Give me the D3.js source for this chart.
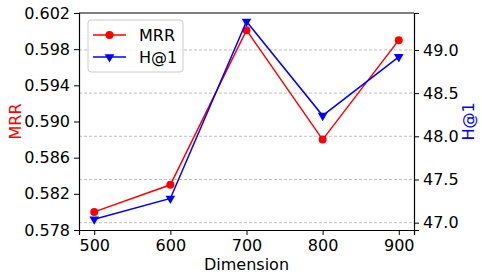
<!DOCTYPE html>
<html>
<head>
<meta charset="utf-8">
<script src="https://cdn.jsdelivr.net/npm/d3@7"></script>
<style>
  body { margin: 0; background: #fff; }
  text { font-family: "DejaVu Sans", sans-serif; }
  .axis path, .axis line { stroke: #000; }
  .axis text { font-size: 16px; fill: #000; }
</style>
</head>
<body>
<div id="chart"></div>
<script>
var dims = [500, 600, 700, 800, 900];
var mrr = [0.5800, 0.5830, 0.6001, 0.5880, 0.5990];
var hit1 = [47.04, 47.28, 49.33, 48.24, 48.92];
var mrrTicks = [0.578, 0.582, 0.586, 0.590, 0.594, 0.598, 0.602];
var hitTicks = [47.0, 47.5, 48.0, 48.5, 49.0];

var width = 482, height = 278;
var margin = {left: 79, right: 68, top: 13, bottom: 48};
var w = width - margin.left - margin.right;
var h = height - margin.top - margin.bottom;

var svg = d3.select("#chart").append("svg")
    .attr("width", width)
    .attr("height", height)
  .append("g")
    .attr("transform", "translate(" + margin.left + "," + margin.top + ")");

var x = d3.scaleLinear().domain([480, 920]).range([0, w]);
var yL = d3.scaleLinear().domain([0.578, 0.602]).range([h, 0]);
var yR = d3.scaleLinear().domain([46.915, 49.428]).range([h, 0]);

// grid from the right axis ticks
svg.selectAll(".grid")
    .data(hitTicks)
    .enter().append("line")
    .attr("x1", 0).attr("x2", w)
    .attr("y1", function(d) { return yR(d); })
    .attr("y2", function(d) { return yR(d); })
    .attr("stroke", "#b0b0b0")
    .attr("stroke-width", 0.8)
    .attr("stroke-dasharray", "3,2");

// axes
svg.append("g").attr("class", "axis")
    .attr("transform", "translate(0," + h + ")")
    .call(d3.axisBottom(x).tickValues(dims).tickSize(5).tickPadding(5));
svg.append("g").attr("class", "axis")
    .call(d3.axisLeft(yL).tickValues(mrrTicks).tickFormat(d3.format(".3f")).tickSize(5).tickPadding(4));
svg.append("g").attr("class", "axis")
    .attr("transform", "translate(" + w + ",0)")
    .call(d3.axisRight(yR).tickValues(hitTicks).tickFormat(d3.format(".1f")).tickSize(5).tickPadding(4));
svg.append("line").attr("x1", 0).attr("x2", w).attr("y1", 0).attr("y2", 0).attr("stroke", "#000");
svg.selectAll(".axis .domain").attr("stroke-width", 1.2);

// lines
var mrrLine = d3.line()
    .x(function(d, i) { return x(dims[i]); })
    .y(function(d) { return yL(d); });
var hitLine = d3.line()
    .x(function(d, i) { return x(dims[i]); })
    .y(function(d) { return yR(d); });

svg.append("path").datum(mrr)
    .attr("d", mrrLine).attr("fill", "none").attr("stroke", "red").attr("stroke-width", 1.5);
svg.selectAll(".mrrpt").data(mrr).enter().append("circle")
    .attr("cx", function(d, i) { return x(dims[i]); })
    .attr("cy", function(d) { return yL(d); })
    .attr("r", 4).attr("fill", "red");

var tri = d3.symbol().type(d3.symbolTriangle).size(40);
svg.append("path").datum(hit1)
    .attr("d", hitLine).attr("fill", "none").attr("stroke", "blue").attr("stroke-width", 1.5);
svg.selectAll(".hitpt").data(hit1).enter().append("path")
    .attr("d", tri)
    .attr("transform", function(d, i) { return "translate(" + x(dims[i]) + "," + yR(d) + ") rotate(180)"; })
    .attr("fill", "blue");

// axis labels
svg.append("text")
    .attr("transform", "translate(" + (-58) + "," + (h / 2) + ") rotate(-90)")
    .attr("text-anchor", "middle")
    .style("font-size", "16px").attr("fill", "red")
    .text("MRR");
svg.append("text")
    .attr("transform", "translate(" + (w + 60) + "," + (h / 2) + ") rotate(-90)")
    .attr("text-anchor", "middle")
    .style("font-size", "16px").attr("fill", "blue")
    .text("H@1");
svg.append("text")
    .attr("x", w / 2).attr("y", h + 40)
    .attr("text-anchor", "middle")
    .style("font-size", "16px")
    .text("Dimension");

// legend
var lg = svg.append("g").attr("transform", "translate(9,7)");
lg.append("rect").attr("width", 95).attr("height", 52).attr("rx", 3)
    .attr("fill", "#fff").attr("fill-opacity", 0.8).attr("stroke", "#ccc");
var items = [{name: "MRR", color: "red", sym: "circle"}, {name: "H@1", color: "blue", sym: "tri"}];
items.forEach(function(it, i) {
    var yy = 15 + i * 22;
    lg.append("line").attr("x1", 5).attr("x2", 38).attr("y1", yy).attr("y2", yy)
        .attr("stroke", it.color).attr("stroke-width", 1.5);
    if (it.sym === "circle") {
        lg.append("circle").attr("cx", 21.5).attr("cy", yy).attr("r", 4).attr("fill", it.color);
    } else {
        lg.append("path").attr("d", tri)
            .attr("transform", "translate(21.5," + yy + ") rotate(180)").attr("fill", it.color);
    }
    lg.append("text").attr("x", 51).attr("y", yy + 6)
        .style("font-size", "16px").text(it.name);
});
</script>
</body>
</html>
